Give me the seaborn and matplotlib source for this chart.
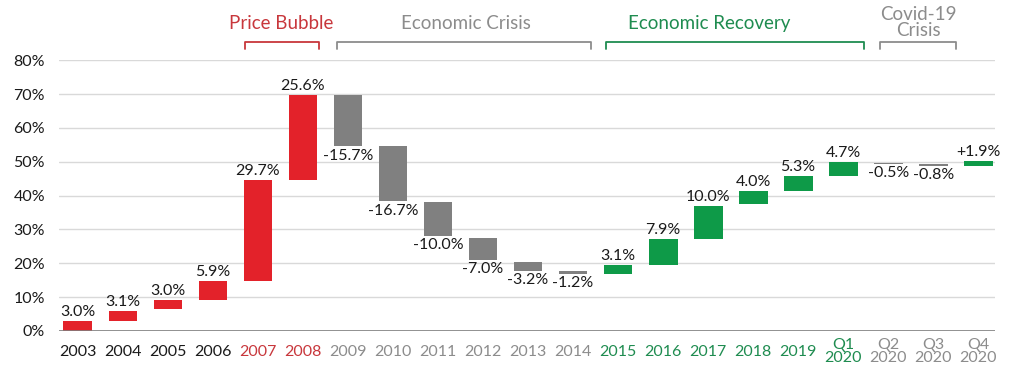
import matplotlib
matplotlib.use("Agg")
import matplotlib.pyplot as plt
import seaborn as sns
import numpy as np
import pandas as pd

periods = ["2003", "2004", "2005", "2006", "2007", "2008", "2009", "2010", "2011",
           "2012", "2013", "2014", "2015", "2016", "2017", "2018", "2019",
           "Q1\n2020", "Q2\n2020", "Q3\n2020", "Q4\n2020"]
# bar extents as drawn in the source chart (cumulative %)
bar_low = [0.0, 2.95, 6.6, 9.2, 14.7, 44.5, 54.6, 38.3, 28.2, 21.0, 17.75, 16.8,
           16.9, 19.5, 27.2, 37.4, 41.4, 45.7, 49.4, 48.7, 48.6]
bar_high = [3.0, 5.8, 9.1, 14.7, 44.5, 69.8, 69.8, 54.5, 38.1, 27.5, 20.5, 17.85,
            19.5, 27.2, 36.9, 41.4, 45.7, 49.85, 49.7, 49.2, 50.3]
labels = ["3.0%", "3.1%", "3.0%", "5.9%", "29.7%", "25.6%", "-15.7%", "-16.7%",
          "-10.0%", "-7.0%", "-3.2%", "-1.2%", "3.1%", "7.9%", "10.0%", "4.0%",
          "5.3%", "4.7%", "-0.5%", "-0.8%", "+1.9%"]
bar_group = ["up"] * 6 + ["down"] * 6 + ["rec"] * 6 + ["down", "down", "rec"]
tick_group = ["base"] * 4 + ["up"] * 2 + ["down"] * 6 + ["rec"] * 6 + ["down"] * 3

# header brackets
headers = ["Price Bubble", "Economic Crisis", "Economic Recovery", "Covid-19\nCrisis"]
header_start = [3.71, 5.76, 11.73, 17.82]
header_end = [5.36, 11.40, 17.47, 19.51]
header_x = [4.51, 8.62, 14.02, 18.67]
header_group = ["up", "down", "rec", "down"]

bar_colors = {"up": "#e3222a", "down": "#808080", "rec": "#0e9a48"}
text_colors = {"base": "#1a1a1a", "up": "#c8373c", "down": "#8c8c8c", "rec": "#1f8c50"}

df = pd.DataFrame({"period": periods, "low": bar_low, "high": bar_high})
df["height"] = df["high"] - df["low"]

sns.set_style("white")
plt.rcParams["font.family"] = ["Lato", "DejaVu Sans"]

fig = plt.figure(figsize=(10.24, 3.69), dpi=100)
ax = fig.add_axes([0.0576, 0.103, 0.9144, 0.734])

sns.barplot(data=df, x="period", y="height", bottom=df["low"].values,
            color="#808080", width=0.64, ax=ax, errorbar=None, saturation=1)
for patch, g in zip(ax.patches, bar_group):
    patch.set_facecolor(bar_colors[g])
    patch.set_edgecolor("none")

for i, (lo, hi, lab) in enumerate(zip(bar_low, bar_high, labels)):
    if lab.startswith("-"):
        ax.text(i, lo - 0.7, lab, ha="center", va="top", fontsize=11.5, color="#1a1a1a")
    else:
        ax.text(i, hi + 0.6, lab, ha="center", va="bottom", fontsize=11.5, color="#1a1a1a")

ax.set_ylim(0, 80)
ax.set_xlim(-0.42, 20.38)
ax.set_yticks(range(0, 81, 10))
ax.set_yticklabels([f"{v}%" for v in range(0, 81, 10)], fontsize=11.5, color="#1a1a1a")
ax.yaxis.grid(True, color="#d9d9d9", linewidth=1)
ax.set_axisbelow(True)
ax.axhline(0, color="#7f7f7f", linewidth=1.2, zorder=3)
for sp in ax.spines.values():
    sp.set_visible(False)
ax.tick_params(axis="y", length=0, pad=10)
ax.tick_params(axis="x", length=0, pad=15)
ax.set_xlabel("")
ax.set_ylabel("")
ax.set_xticks(range(len(periods)))
ax.set_xticklabels(periods, fontsize=11.5, linespacing=0.9)
for t, g in zip(ax.get_xticklabels(), tick_group):
    t.set_color(text_colors[g])
    t.set_va("center")

for name, s, e, xt, g in zip(headers, header_start, header_end, header_x, header_group):
    col = text_colors[g]
    ax.plot([s, s, e, e], [83.4, 85.3, 85.3, 83.4], color=col, linewidth=1.3,
            clip_on=False)
    ax.text(xt, 88.2 if "\n" not in name else 86.3, name, ha="center", va="bottom",
            fontsize=13.5, color=col, linespacing=0.95, clip_on=False)

fig.savefig("out.png", dpi=100)
